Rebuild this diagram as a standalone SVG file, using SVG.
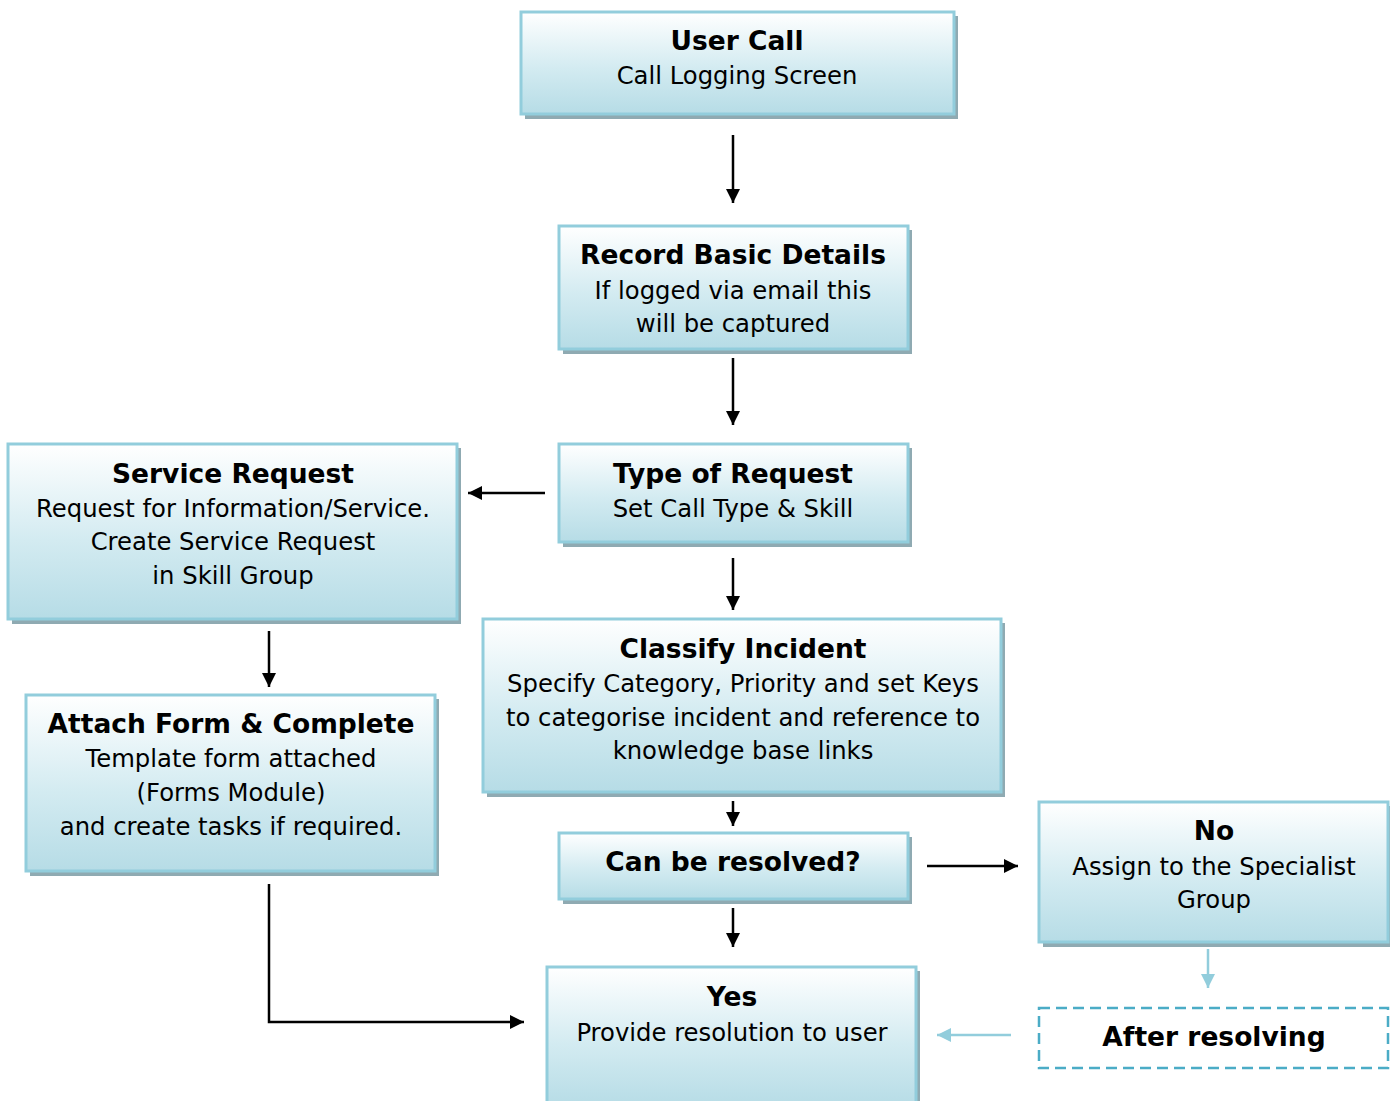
<svg xmlns="http://www.w3.org/2000/svg" width="1390" height="1101" viewBox="0 0 1390 1101">
<defs>
<linearGradient id="g" x1="0" y1="0" x2="0" y2="1">
<stop offset="0" stop-color="#ffffff"/>
<stop offset="0.55" stop-color="#d3ebf1"/>
<stop offset="1" stop-color="#b6dce6"/>
</linearGradient>
<marker id="ah" viewBox="0 0 10 10" refX="10" refY="5" markerWidth="6" markerHeight="5.6" orient="auto" markerUnits="strokeWidth">
<path d="M0,0 L10,5 L0,10 z" fill="#000"/>
</marker>
<marker id="ahb" viewBox="0 0 10 10" refX="10" refY="5" markerWidth="6" markerHeight="5.6" orient="auto" markerUnits="strokeWidth">
<path d="M0,0 L10,5 L0,10 z" fill="#92cddc"/>
</marker>
</defs>
<style>
.sh{fill:#8faab2}
.bx{fill:url(#g);stroke:#92cddc;stroke-width:3}
.t{font-family:"DejaVu Sans",Verdana,sans-serif;font-size:26.5px;font-weight:bold;text-anchor:middle;fill:#000}
.b{font-family:"DejaVu Sans",Verdana,sans-serif;font-size:24.3px;text-anchor:middle;fill:#000}
.c{stroke:#000;stroke-width:2.5;fill:none;marker-end:url(#ah)}
.cb{stroke:#92cddc;stroke-width:2.5;fill:none;marker-end:url(#ahb)}
</style>
<g id="user-call">
<rect class="sh" x="525" y="16" width="433" height="103"/>
<rect class="bx" x="521" y="12" width="433" height="102"/>
<text class="t" x="737" y="50">User Call</text>
<text class="b" x="737" y="84">Call Logging Screen</text>
</g>
<g id="record-basic">
<rect class="sh" x="563" y="230" width="349" height="124"/>
<rect class="bx" x="559" y="226" width="349" height="123"/>
<text class="t" x="733" y="264">Record Basic Details</text>
<text class="b" x="733" y="299">If logged via email this</text>
<text class="b" x="733" y="332">will be captured</text>
</g>
<g id="type-request">
<rect class="sh" x="563" y="448" width="349" height="99"/>
<rect class="bx" x="559" y="444" width="349" height="98"/>
<text class="t" x="733" y="483">Type of Request</text>
<text class="b" x="733" y="517">Set Call Type &amp; Skill</text>
</g>
<g id="service-request">
<rect class="sh" x="12" y="448" width="449" height="176"/>
<rect class="bx" x="8" y="444" width="449" height="175"/>
<text class="t" x="233" y="483">Service Request</text>
<text class="b" x="233" y="517">Request for Information/Service.</text>
<text class="b" x="233" y="550">Create Service Request</text>
<text class="b" x="233" y="584">in Skill Group</text>
</g>
<g id="attach-form">
<rect class="sh" x="30" y="699" width="409" height="177"/>
<rect class="bx" x="26" y="695" width="409" height="176"/>
<text class="t" x="231" y="733">Attach Form &amp; Complete</text>
<text class="b" x="231" y="767">Template form attached</text>
<text class="b" x="231" y="801">(Forms Module)</text>
<text class="b" x="231" y="835">and create tasks if required.</text>
</g>
<g id="classify">
<rect class="sh" x="487" y="623" width="518" height="174"/>
<rect class="bx" x="483" y="619" width="518" height="173"/>
<text class="t" x="743" y="658">Classify Incident</text>
<text class="b" x="743" y="692">Specify Category, Priority and set Keys</text>
<text class="b" x="743" y="726">to categorise incident and reference to</text>
<text class="b" x="743" y="759">knowledge base links</text>
</g>
<g id="can-resolve">
<rect class="sh" x="563" y="837" width="349" height="67"/>
<rect class="bx" x="559" y="833" width="349" height="66"/>
<text class="t" x="733" y="871">Can be resolved?</text>
</g>
<g id="no">
<rect class="sh" x="1043" y="806" width="349" height="141"/>
<rect class="bx" x="1039" y="802" width="349" height="140"/>
<text class="t" x="1214" y="840">No</text>
<text class="b" x="1214" y="875">Assign to the Specialist</text>
<text class="b" x="1214" y="908">Group</text>
</g>
<g id="yes">
<rect class="sh" x="551" y="971" width="369" height="140"/>
<rect class="bx" x="547" y="967" width="369" height="140"/>
<text class="t" x="732" y="1006">Yes</text>
<text class="b" x="732" y="1041">Provide resolution to user</text>
</g>
<g id="after-resolving">
<rect x="1039" y="1008" width="349" height="60" fill="#fff" stroke="#4bacc6" stroke-width="2.5" stroke-dasharray="11 6"/>
<text class="t" x="1214" y="1046">After resolving</text>
</g>
<g id="connectors">
<path class="c" d="M733,135 V203"/>
<path class="c" d="M733,358 V425"/>
<path class="c" d="M545,493 H468"/>
<path class="c" d="M733,558 V610"/>
<path class="c" d="M269,631 V687"/>
<path class="c" d="M733,801 V826"/>
<path class="c" d="M927,866 H1018"/>
<path class="c" d="M733,908 V947"/>
<path class="c" d="M269,884 V1022 H524"/>
<path class="cb" d="M1208,949 V988"/>
<path class="cb" d="M1011,1035 H937"/>
</g>
</svg>
